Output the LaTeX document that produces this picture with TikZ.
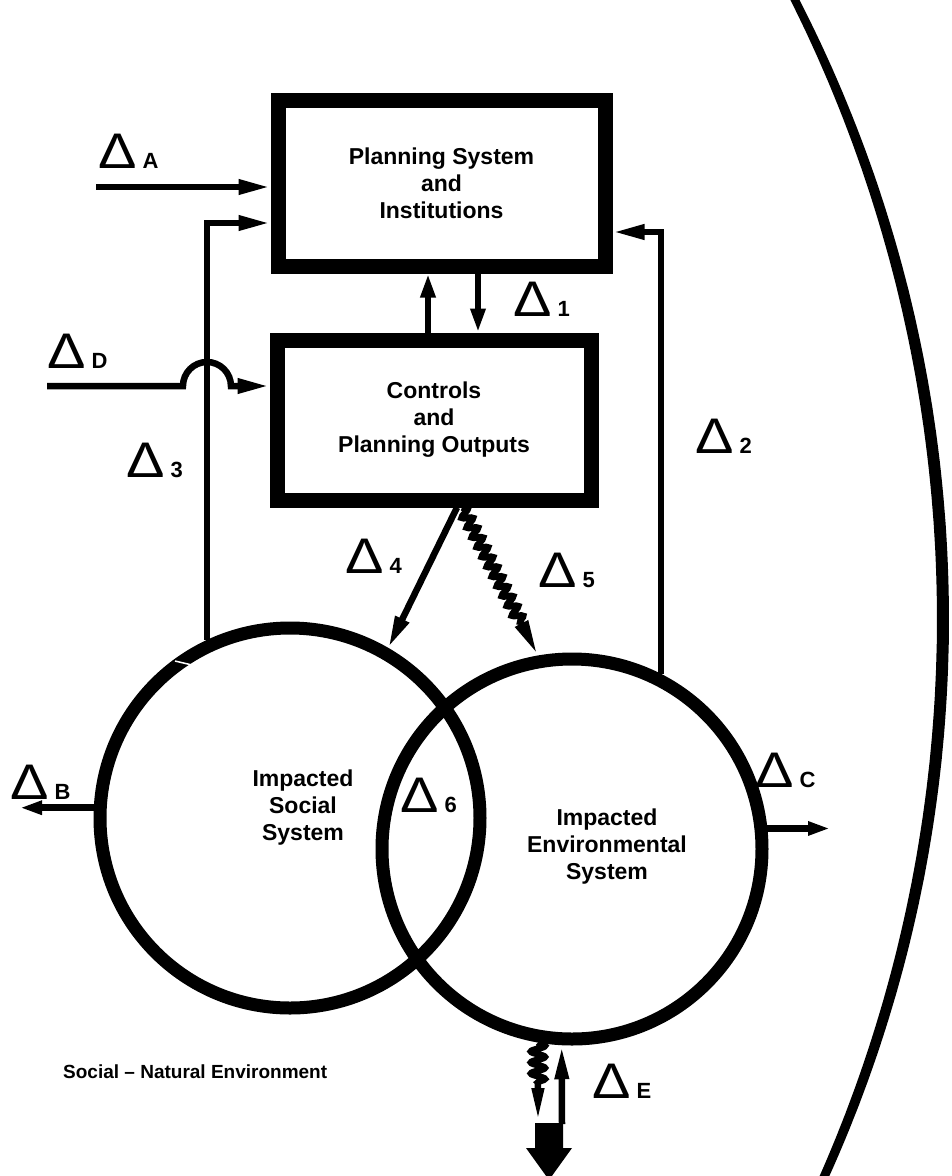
\documentclass[tikz,border=0pt]{standalone}
\usepackage{fontspec}
\usepackage{graphicx}
\setmainfont{Liberation Sans}
\usetikzlibrary{arrows.meta,decorations.pathmorphing,calc}

% delta label: open triangle with a bold index
\newcommand{\dlab}[1]{\scalebox{1.15}[1]{\fontsize{50pt}{50pt}\selectfont Δ}\hspace{6pt}{\fontsize{22pt}{22pt}\selectfont\bfseries #1}}

\begin{document}
\begin{tikzpicture}[x=1pt,y=-1pt,
  box/.style={draw, line width=15pt, rectangle, inner sep=0pt,
              font=\fontsize{23pt}{27pt}\selectfont\bfseries, align=center},
  sys/.style={draw, line width=13pt, circle, inner sep=0pt, minimum size=380pt},
  txt/.style={font=\fontsize{23pt}{27pt}\selectfont\bfseries, align=center, inner sep=0pt},
  dlabel/.style={anchor=base west, inner sep=0pt},
  link/.style={line width=6.5pt},
  arr/.style={link, -{Triangle[length=32pt,width=14pt]}},
  shortarr/.style={link, -{Triangle[length=24pt,width=14pt]}},
  sidearr/.style={link, -{Triangle[length=22pt,width=13pt]}},
  wavy/.style={decorate, decoration={snake, segment length=11pt, amplitude=5pt, post length=38pt}},
]
\useasboundingbox[fill=white] (0,0) rectangle (952,1176);

% blocks
\node[box, minimum width=327pt, minimum height=166pt] (plan) at (441.5,183)
  {Planning System\\and\\Institutions};
\node[box, minimum width=314pt, minimum height=160pt] (ctrl) at (434,420)
  {Controls\\and\\Planning Outputs};

% impacted systems
\node[sys] (soc) at (290,818) {};
\node[sys] (env) at (572,849) {};
\draw[white, line width=1.5pt] (175,661) -- (192,665);
\node[txt] (socT) at (303,808) {Impacted\\Social\\System};
\node[txt] (envT) at (607,847) {Impacted\\Environmental\\System};

% outer boundary of the natural environment, thicker at mid height
\fill plot[domain=-29:26, samples=100, variable=\t]
    ({-408+1357*cos(\t)}, {619+1357*sin(\t)})
  -- plot[domain=26:-29, samples=100, variable=\t]
    ({-444+1381*cos(\t)}, {619+1381*sin(\t)}) -- cycle;

% external inputs
\coordinate (aS) at (96,187);
\draw[arr] (aS) -- (aS -| plan.west);
\coordinate (dS) at (47,386);
\coordinate (fb) at (soc.115);
\draw[arr] (dS) -- ($(dS -| fb)+(-24,0)$) arc[start angle=180, end angle=0, radius=24pt]
  -- (dS -| ctrl.west);

% feedback loops
\draw[arr] (soc.115) |- ([yshift=-40pt]plan.west);
\draw[arr] (env.63) |- ([yshift=-49pt]plan.east);

% exchange between planning and controls
\coordinate (upx) at ([xshift=-6pt]ctrl.north);
\coordinate (dnx) at ([xshift=44pt]ctrl.north);
\draw[shortarr] (upx) -- (upx |- plan.south);
\draw[shortarr] (dnx |- plan.south) -- (dnx);

% impacts of the planning outputs
\draw[arr] ([xshift=23pt]ctrl.south) -- (soc.60);
\draw[link, wavy, -{Triangle[length=36pt,width=13pt]}] ([xshift=28pt]ctrl.south) -- (env.100);

% outputs to the surroundings
\coordinate (bE) at (20,0);
\draw[sidearr] (soc.177) -- (soc.177 -| bE);
\coordinate (cE) at (830,0);
\draw[sidearr] (env.6) -- (env.6 -| cE);

% exchange with the natural environment
\fill (535,1123) -- (563,1123) -- (563,1148) -- (572,1148) -- (549,1180)
  -- (526,1148) -- (535,1148) -- cycle;
\coordinate (zigEnd) at (538,1124);
\coordinate (upStart) at (562,1124);
\draw[link, decorate, decoration={snake, segment length=11pt, amplitude=7pt, post length=38pt},
  -{Triangle[length=36pt,width=11pt]}] (env.-100) -- (zigEnd);
\draw[link, -{Triangle[length=34pt,width=13pt]}] (upStart) -- (env.-93);

% labels
\node[dlabel] (dA) at (98,168) {\dlab{A}};
\node[dlabel] (d1) at (513,316) {\dlab{1}};
\node[dlabel] (dD) at (47,368) {\dlab{D}};
\node[dlabel] (d3) at (126,477) {\dlab{3}};
\node[dlabel] (d2) at (695,453) {\dlab{2}};
\node[dlabel] (d4) at (345,573) {\dlab{4}};
\node[dlabel] (d5) at (538,587) {\dlab{5}};
\node[dlabel] (dB) at (10,799) {\dlab{B}};
\node[dlabel] (d6) at (400,812) {\dlab{6}};
\node[dlabel] (dC) at (755,787) {\dlab{C}};
\node[dlabel] (dE) at (592,1098) {\dlab{E}};

\node[font=\fontsize{19pt}{19pt}\selectfont\bfseries, anchor=west, inner sep=0pt] (legend)
  at (63,1072) {Social -- Natural Environment};
\end{tikzpicture}
\end{document}
